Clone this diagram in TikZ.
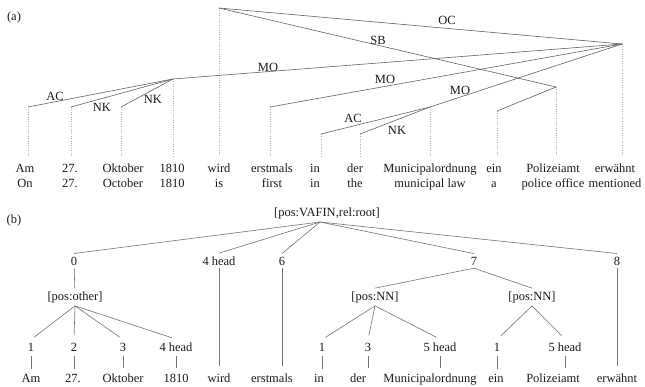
\documentclass[tikz,border=0pt]{standalone}
\usepackage{fontspec}
\setmainfont{Liberation Serif}
\begin{document}
\begin{tikzpicture}[x=1pt,y=-1pt,
  every node/.style={font=\fontsize{12.5}{15}\selectfont, inner sep=0pt, text=black!90},
  wd/.style={anchor=base, inner xsep=1pt, inner ysep=3pt},
  tl/.style={draw=black!62, line width=0.6pt},
  dl/.style={draw=black!30, line width=0.6pt, dash pattern=on 0.7pt off 1.7pt},
  bl/.style={draw=black!55, line width=0.6pt}]
\useasboundingbox (0,0) rectangle (645,386);

% ---------------- (a) ----------------
\node[anchor=base] (la) at (14,20) {(a)};
\coordinate (aR) at (219,8);
\coordinate (aE) at (622,44);
\coordinate (aG) at (173,79);
\coordinate (aM) at (430,107);
\coordinate (aP) at (556,87);
\coordinate (aAm) at (28,107);
\coordinate (aT) at (71,107);
\coordinate (aO) at (121,107);
\coordinate (aS) at (270,107);
\coordinate (aI) at (321,134);
\coordinate (aD) at (360,134);
\coordinate (aN) at (497,111);

\foreach \n/\x/\w/\g in {1/25/Am/On, 2/70/27./27., 3/123/Oktober/October, 4/172/1810/1810, 5/219/wird/is, 6/272/erstmals/first, 7/315/in/in, 8/355/der/the, 9/430/Municipalordnung/municipal law, 10/494/ein/a, 11/553/Polizeiamt/police office, 12/615/erwähnt/mentioned}{
  \node[wd] (w\n) at (\x,172.5) {\w};
  \node[wd] (g\n) at (\x,187.5) {\g};
}

% dotted projection lines
\foreach \c/\n in {aAm/1, aT/2, aO/3, aG/4, aR/5, aS/6, aI/7, aD/8, aM/9, aN/10, aP/11, aE/12}{
  \draw[dl] (\c) -- (\c |- 0,156);
}

% edges
\draw[tl] (aR) -- (aE);
\draw[tl] (aR) -- (aP);
\draw[tl] (aE) -- (aG);
\draw[tl] (aE) -- (aS);
\draw[tl] (aE) -- (aM);
\draw[tl] (aG) -- (aAm);
\draw[tl] (aG) -- (aT);
\draw[tl] (aG) -- (aO);
\draw[tl] (aM) -- (aI);
\draw[tl] (aM) -- (aD);
\draw[tl] (aP) -- (aN);

\node (lOC) at (447,20) {OC};
\node (lSB) at (378,40) {SB};
\node (lMO1) at (268,67) {MO};
\node (lMO2) at (385,79) {MO};
\node (lMO3) at (460,90) {MO};
\node (lAC1) at (55,96) {AC};
\node (lNK1) at (102,107) {NK};
\node (lNK2) at (153,99) {NK};
\node (lAC2) at (353,118) {AC};
\node (lNK3) at (397,130) {NK};

% ---------------- (b) ----------------
\node[anchor=base] (lb) at (14,223) {(b)};
\node[wd] (root) at (327,216) {[pos:VAFIN,rel:root]};
\coordinate (rt) at (320,222);

\node[wd] (b0) at (74,265) {0};
\node[wd] (b4h) at (219,265) {4 head};
\node[wd] (b6) at (282,265) {6};
\node[wd] (b7) at (474,265) {7};
\node[wd] (b8) at (617,265) {8};

\node[wd] (po) at (75,300) {[pos:other]};
\node[wd] (nn1) at (375,300) {[pos:NN]};
\node[wd] (nn2) at (532,300) {[pos:NN]};

\foreach \n/\x/\t in {1/31/1, 2/74/2, 3/123/3, 4/176/4 head, 7/322/1, 8/368/3, 9/440/5 head, 10/497/1, 11/565/5 head}{
  \node[wd] (k\n) at (\x,351) {\t};
}
\foreach \n/\x/\w in {1/31/Am, 2/73/27., 3/123/Oktober, 4/176/1810, 5/219/wird, 6/272/erstmals, 7/319/in, 8/358/der, 9/430/Municipalordnung, 10/496/ein, 11/553/Polizeiamt, 12/617/erwähnt}{
  \node[wd] (v\n) at (\x,382) {\w};
}

\foreach \c in {b0,b4h,b6,b7,b8}{
  \draw[bl] (rt) -- (\c.north);
}
\draw[bl] (b0) -- (po);
\foreach \c in {k1,k2,k3,k4}{ \draw[bl,shorten >=4pt] (po.south) -- (\c.north); }
\draw[bl] (b7.south) -- (nn1.north);
\draw[bl] (b7.south) -- (nn2.north);
\foreach \c in {k7,k8,k9}{ \draw[bl,shorten >=4pt] (nn1.south) -- (\c.north); }
\foreach \c in {k10,k11}{ \draw[bl,shorten >=5pt] (nn2.south) -- (\c.north); }
% short lines to words
\foreach \k/\v in {k1/v1,k2/v2,k3/v3,k4/v4,k7/v7,k8/v8,k9/v9,k10/v10,k11/v11}{
  \draw[bl,shorten <=2pt,shorten >=2pt] (\k.south) -- (\k.south |- \v.north);
}
\draw[bl,shorten >=4pt] (b4h.south) -- (b4h.south |- v5.north);
\draw[bl,shorten >=4pt] (b6.south) -- (b6.south |- v6.north);
\draw[bl,shorten >=4pt] (b8.south) -- (b8.south |- v12.north);
\end{tikzpicture}
\end{document}
